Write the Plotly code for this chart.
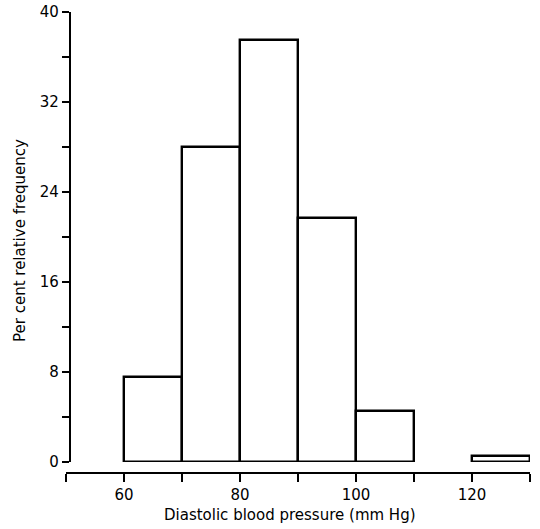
import plotly.graph_objects as go

bin_left = [60, 70, 80, 90, 100, 120]
bin_width = 10
percent = [7.6, 28.0, 37.5, 21.7, 4.5, 0.5]

x_tick_vals = [50, 60, 70, 80, 90, 100, 110, 120, 130]
x_tick_text = ["", "60", "", "80", "", "100", "", "120", ""]
y_tick_vals = [0, 4, 8, 12, 16, 20, 24, 28, 32, 36, 40]
y_tick_text = ["0", "", "8", "", "16", "", "24", "", "32", "", "40"]

FONT = "DejaVu Sans"

fig = go.Figure()
fig.add_trace(go.Bar(
    x=[b + bin_width / 2 for b in bin_left],
    y=percent,
    width=bin_width,
    marker=dict(color="white", line=dict(color="black", width=2.4)),
    hoverinfo="x+y",
))

W, H = 540, 529
ml, mr, mt, mb = 66, 10, 12, 56
plot_h = H - mt - mb
plot_w = W - ml - mr
dom0 = 11 / plot_h

fig.update_layout(
    width=W, height=H,
    margin=dict(l=ml, r=mr, t=mt, b=mb, autoexpand=False),
    paper_bgcolor="white", plot_bgcolor="white",
    showlegend=False,
    bargap=0,
    font=dict(family=FONT, size=15, color="black"),
    xaxis=dict(
        range=[50, 130], domain=[0, 1],
        anchor="free", position=0,
        tickmode="array", tickvals=x_tick_vals, ticktext=x_tick_text,
        ticks="outside", ticklen=8, tickwidth=2.2, tickcolor="black",
        showline=True, linecolor="black", linewidth=2.4,
        showgrid=False, zeroline=False, automargin=False,
        tickfont=dict(family=FONT, size=15, color="black"),
        fixedrange=True,
    ),
    yaxis=dict(
        range=[0, 40], domain=[dom0, 1],
        anchor="free", position=4 / plot_w,
        tickmode="array", tickvals=y_tick_vals, ticktext=y_tick_text,
        ticks="outside", ticklen=7, tickwidth=2.2, tickcolor="black",
        showline=True, linecolor="black", linewidth=2.4,
        showgrid=False, zeroline=False, automargin=False,
        tickfont=dict(family=FONT, size=15, color="black"),
        fixedrange=True,
    ),
    annotations=[
        dict(text="Diastolic blood pressure (mm Hg)", xref="paper", yref="paper",
             x=(290 - ml) / plot_w, y=-(515 - (H - mb)) / plot_h,
             xanchor="center", yanchor="middle", showarrow=False,
             font=dict(family=FONT, size=15, color="black")),
        dict(text="Per cent relative frequency", xref="paper", yref="paper",
             x=-(ml - 20) / plot_w, y=1 - (241 - mt) / plot_h,
             xanchor="center", yanchor="middle", showarrow=False, textangle=-90,
             font=dict(family=FONT, size=15, color="black")),
    ],
)

fig.write_html("out.html", config={"displayModeBar": False},
               post_script="document.body.style.margin='0px';")
